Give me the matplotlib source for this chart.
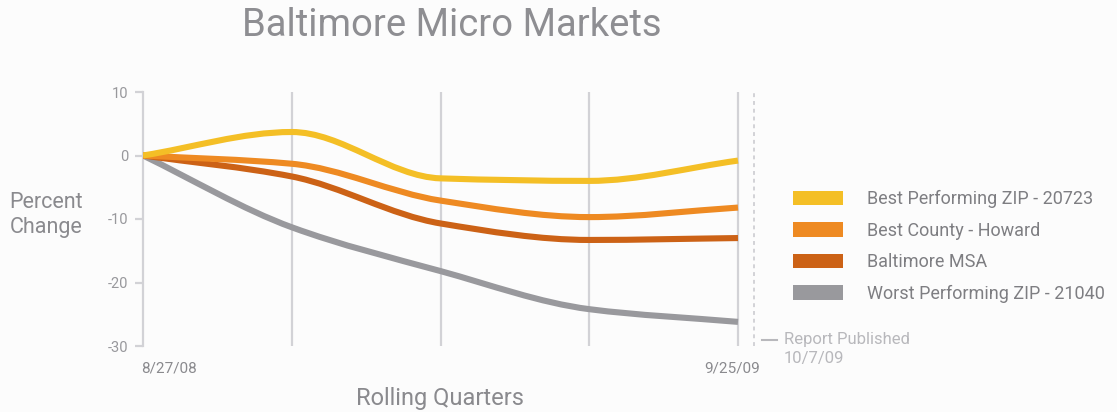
import matplotlib
matplotlib.use("Agg")
import matplotlib.pyplot as plt
from matplotlib.path import Path
from matplotlib.patches import PathPatch, Patch
import numpy as np

plt.rcParams['font.family'] = ['Roboto', 'DejaVu Sans']

# ---- data ----
quarters = [0, 1, 2, 3, 4]
x_labels = ["8/27/08", "9/25/09"]
series_names = ["Best Performing ZIP - 20723", "Best County - Howard",
                "Baltimore MSA", "Worst Performing ZIP - 21040"]
best_zip = [0.0, 3.7, -3.6, -4.0, -0.8]
best_county = [0.0, -1.3, -7.1, -9.7, -8.2]
baltimore_msa = [0.0, -3.3, -10.7, -13.3, -13.0]
worst_zip = [0.0, -11.3, -18.2, -24.2, -26.2]
y_ticks = [10, 0, -10, -20, -30]
report_pos = 4.11

colors = ["#f4bf26", "#ee8a22", "#cc6216", "#99999d"]
all_series = [best_zip, best_county, baltimore_msa, worst_zip]

W, H = 1117, 412
fig = plt.figure(figsize=(W / 100, H / 100), dpi=100)
fig.patch.set_facecolor("#fcfcfc")

x0_px = 143
px_per_unit = (738 - x0_px) / 4
xmax = 4.2
ax = fig.add_axes([x0_px / W, (H - 346) / H, xmax * px_per_unit / W, 254 / H])
ax.set_facecolor("none")
ax.set_xlim(0, xmax)
ax.set_ylim(-30, 10)


def smooth_path(xs, ys):
    xs = np.asarray(xs, float)
    ys = np.asarray(ys, float)
    n = len(xs)
    d = np.diff(ys) / np.diff(xs)
    m = np.zeros(n)
    m[0] = d[0]
    m[-1] = d[-1]
    for i in range(1, n - 1):
        if d[i - 1] * d[i] <= 0:
            m[i] = 0.0
        else:
            m[i] = 2.0 / (1.0 / d[i - 1] + 1.0 / d[i])
    verts = [(xs[0], ys[0])]
    codes = [Path.MOVETO]
    for i in range(n - 1):
        h = xs[i + 1] - xs[i]
        verts += [(xs[i] + h / 3, ys[i] + m[i] * h / 3),
                  (xs[i + 1] - h / 3, ys[i + 1] - m[i + 1] * h / 3),
                  (xs[i + 1], ys[i + 1])]
        codes += [Path.CURVE4] * 3
    return Path(verts, codes)


grid_color = "#d2d2d6"
for q in quarters[1:]:
    ax.axvline(q, color=grid_color, lw=1.6, zorder=1)
ax.axvline(report_pos, color=grid_color, lw=1.4, ls=(0, (2, 2)), zorder=1)

for ys, c in zip(all_series[::-1], colors[::-1]):
    p = PathPatch(smooth_path(quarters, ys), fill=False, edgecolor=c,
                  lw=4.4, capstyle='butt', joinstyle='round', zorder=3)
    ax.add_patch(p)

for s in ["top", "right", "bottom"]:
    ax.spines[s].set_visible(False)
ax.spines["left"].set_color(grid_color)
ax.spines["left"].set_linewidth(1.6)
ax.set_yticks(y_ticks)
ax.set_yticklabels([str(t) for t in y_ticks])
ax.tick_params(axis='y', colors=grid_color, labelcolor="#98989c",
               labelsize=10.5, length=6, width=1.6, pad=4.5)
ax.set_xticks([])

label_color = "#8a8a8e"
ax.text(-0.01, -33.5, x_labels[0], ha='left', va='center', fontsize=11,
        color=label_color)
ax.text(3.96, -33.5, x_labels[1], ha='center', va='center', fontsize=11,
        color=label_color)

# report published note
ax.plot([4.16, 4.26], [-29.0, -29.0], color="#b8b8bc", lw=1.5, clip_on=False)
ax.text(4.31, -29.0, "Report Published", ha='left', va='center',
        fontsize=12, color="#b8b8bc")
ax.text(4.31, -31.9, "10/7/09", ha='left', va='center',
        fontsize=12, color="#b8b8bc")

fig.text(452 / W, 1 - 26 / H, "Baltimore Micro Markets", ha='center',
         va='center', fontsize=27.5, color="#8e8e92")
fig.text(46 / W, 1 - 215 / H, "Percent\nChange", ha='center', va='center',
         fontsize=15.5, color="#8a8a8e", linespacing=1.25)
fig.text(440 / W, 1 - 398 / H, "Rolling Quarters", ha='center',
         va='center', fontsize=17, color="#8a8a8e")

handles = [Patch(facecolor=c, edgecolor='none') for c in colors]
fig.legend(handles, series_names, loc='upper left',
           bbox_to_anchor=(793 / W, 1 - 190 / H), frameon=False,
           fontsize=13, labelcolor="#7e7e82", handlelength=2.75,
           handleheight=0.85, handletextpad=1.35, labelspacing=0.75,
           borderpad=0, borderaxespad=0)

fig.savefig("out.png", dpi=100, facecolor=fig.get_facecolor())
